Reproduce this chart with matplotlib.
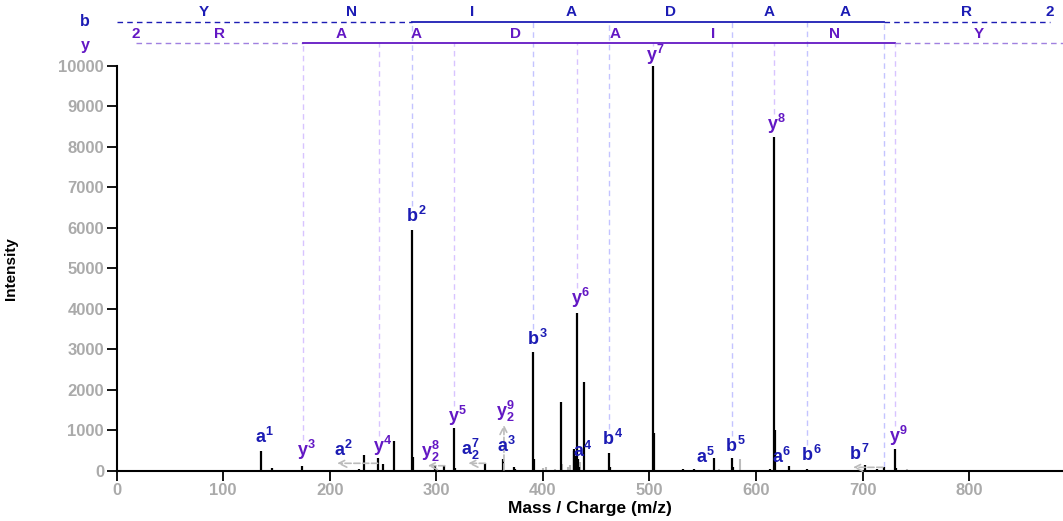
import numpy as np
import matplotlib
matplotlib.use("Agg")
import matplotlib.pyplot as plt

plt.rcParams['font.family'] = ['Liberation Sans', 'DejaVu Sans']
plt.rcParams['mathtext.fontset'] = 'custom'
plt.rcParams['mathtext.rm'] = 'Liberation Sans:bold'
plt.rcParams['mathtext.it'] = 'Liberation Sans:bold'
plt.rcParams['mathtext.bf'] = 'Liberation Sans:bold'

B_COL = '#1c1cb4'
Y_COL = '#6318c4'
GREY = '#bbbbbb'

# spectre : pics noirs (m/z, intensité)
peak_mz = [135.6, 146, 174.3, 227.5, 232.2, 245.6, 249.7, 260.6, 277.4, 278.6,
           298.8, 307.5, 316.6, 318, 346, 362.6, 373, 374.2, 390.7, 391.6,
           414, 416.7, 429.0, 429.6, 430.3, 432.0, 433.3, 434.2, 438.3, 462.3,
           463, 483, 503.3, 504.5, 531.7, 542, 549, 560.2, 577.4, 578.4,
           599, 613.4, 616.4, 617.7, 631, 648.1, 702.4, 713.7, 719.6, 730.3, 731.5]
peak_int = [500, 70, 130, 50, 400, 330, 170, 730, 5950, 340,
            130, 125, 1060, 70, 190, 290, 90, 60, 2950, 290,
            30, 1710, 540, 500, 380, 3890, 300, 100, 2200, 450,
            100, 20, 10000, 950, 40, 40, 30, 330, 320, 100,
            20, 40, 8250, 1010, 120, 40, 140, 40, 90, 535, 80]

# pics gris (non annotés)
grey_mz = [187, 400.2, 403, 411, 417.5, 424, 425.5, 434.8, 565, 585, 741.5]
grey_int = [15, 80, 100, 50, 180, 100, 150, 220, 40, 300, 60]

# étiquettes des ions
lab_text = ['a^1', 'y^3', 'a^2', 'y^4', 'b^2', 'y_2^8', 'y^5', 'a_2^7', 'a^3', 'y_2^9', 'b^3',
            'a^4', 'y^6', 'b^4', 'y^7', 'a^5', 'b^5', 'y^8', 'a^6', 'b^6', 'b^7', 'y^9']
lab_x = [139, 178.4, 213, 250, 281, 295, 320.4, 332.6, 366.4, 365.5, 394.5,
         437.6, 435.7, 465.8, 505.7, 553, 581, 619.6, 624, 652, 697, 734]
lab_y = [683, 370, 370, 477, 6155, 353, 1217, 395, 477, 1340, 3111,
         353, 4116, 642, 10116, 190, 477, 8420, 190, 255, 272, 723]
lab_kind = ['b', 'y', 'b', 'y', 'b', 'y', 'y', 'b', 'b', 'y', 'b',
            'b', 'y', 'b', 'y', 'b', 'b', 'y', 'b', 'b', 'b', 'y']

# lignes verticales des ions b / y
b_ions = [277.4, 390.7, 462.3, 577.4, 648.1, 719.6]
b_line_end = [6550, 3500, 1030, 860, 640, 90]
y_ions = [174.7, 246.1, 316.5, 432.0, 503.3, 616.4, 730.3]
y_line_end = [760, 870, 1610, 4510, 10500, 8810, 1110]

# en-tête séquence
b_bounds = [0, 163, 277.4, 390.7, 462.3, 577.4, 648.1, 719.6, 876]
b_letters = ['Y', 'N', 'I', 'A', 'D', 'A', 'A', 'R']
y_bounds = [18, 174.7, 246.1, 316.5, 432.0, 503.3, 616.4, 730.3, 888]
y_letters = ['R', 'A', 'A', 'D', 'A', 'I', 'N', 'Y']

# flèches de déplacement des étiquettes
arr_start = [(245, 190), (308, 130), (346, 190), (363.5, 25), (719, 90)]
arr_end = [(207, 190), (292, 130), (330, 190), (363.5, 1140), (691, 90)]

fig = plt.figure(figsize=(10.63, 5.21), dpi=100)
ax = fig.add_axes([0.1096, 0.096, 0.8904, 0.7774])

ax.vlines(grey_mz, 0, grey_int, color=GREY, lw=1.5)
ax.vlines(peak_mz, 0, peak_int, color='black', lw=1.6, zorder=3)

B_ROW = 11086
Y_ROW = 10568

for x, e in zip(b_ions, b_line_end):
    ax.plot([x, x], [e, B_ROW], ls=(0, (4, 3)), color='#c4c4ff', lw=1, clip_on=False, zorder=1)
for x, e in zip(y_ions, y_line_end):
    ax.plot([x, x], [e, Y_ROW], ls=(0, (4, 3)), color='#d8c4ff', lw=1, clip_on=False, zorder=1)

for s, e in zip(arr_start, arr_end):
    ax.annotate('', xy=e, xytext=s,
                arrowprops=dict(arrowstyle='->', color=GREY, ls='--', lw=1.2,
                                shrinkA=0, shrinkB=0, mutation_scale=14))

for t, x, y, k in zip(lab_text, lab_x, lab_y, lab_kind):
    ax.text(x, y, '$' + t + '$', color=B_COL if k == 'b' else Y_COL,
            fontsize=13, ha='center', va='baseline', zorder=4)

# en-tête b
ax.plot([b_bounds[0], b_bounds[2]], [B_ROW, B_ROW], ls=(0, (4, 3)), color=B_COL, lw=1, clip_on=False)
ax.plot([b_bounds[2], b_bounds[7]], [B_ROW, B_ROW], color=B_COL, lw=1.3, clip_on=False)
ax.plot([b_bounds[7], b_bounds[8]], [B_ROW, B_ROW], ls=(0, (4, 3)), color=B_COL, lw=1, clip_on=False)
for i, l in enumerate(b_letters):
    ax.text((b_bounds[i] + b_bounds[i + 1]) / 2, B_ROW + 70, l, color=B_COL,
            fontsize=11, fontweight='bold', ha='center', va='bottom')
ax.text(b_bounds[-1], B_ROW + 70, '2', color=B_COL, fontsize=11, fontweight='bold', ha='center', va='bottom')
ax.text(-29.5, B_ROW, 'b', color=B_COL, fontsize=11.5, fontweight='bold', ha='center', va='center')

# en-tête y
ax.plot([y_bounds[0], y_bounds[1]], [Y_ROW, Y_ROW], ls=(0, (4, 3)), color='#a080e0', lw=1, clip_on=False)
ax.plot([y_bounds[1], y_bounds[7]], [Y_ROW, Y_ROW], color=Y_COL, lw=1.3, clip_on=False)
ax.plot([y_bounds[7], y_bounds[8]], [Y_ROW, Y_ROW], ls=(0, (4, 3)), color='#a080e0', lw=1, clip_on=False)
for i, l in enumerate(y_letters):
    ax.text((y_bounds[i] + y_bounds[i + 1]) / 2, Y_ROW + 40, l, color=Y_COL,
            fontsize=11, fontweight='bold', ha='center', va='bottom')
ax.text(y_bounds[0], Y_ROW + 40, '2', color=Y_COL, fontsize=11, fontweight='bold', ha='center', va='bottom')
ax.text(-29.5, Y_ROW - 60, 'y', color=Y_COL, fontsize=11.5, fontweight='bold', ha='center', va='center')

ax.set_xlim(0, 888)
ax.set_ylim(0, 10000)
ax.set_xticks(np.arange(0, 900, 100))
ax.set_yticks(np.arange(0, 10001, 1000))
for s in ['top', 'right']:
    ax.spines[s].set_visible(False)
for s in ['left', 'bottom']:
    ax.spines[s].set_linewidth(1.5)
ax.tick_params(direction='out', length=7, width=1.3, labelsize=12, labelcolor='#aaaaaa', pad=2)
for lbl in ax.get_xticklabels() + ax.get_yticklabels():
    lbl.set_fontweight('bold')

ax.set_xlabel('Mass / Charge (m/z)', fontsize=12.5, fontweight='bold', labelpad=2)
ax.set_ylabel('Intensity', fontsize=11, fontweight='bold')
ax.yaxis.set_label_coords(-0.104, 0.5)

fig.savefig('out.png', dpi=100)
